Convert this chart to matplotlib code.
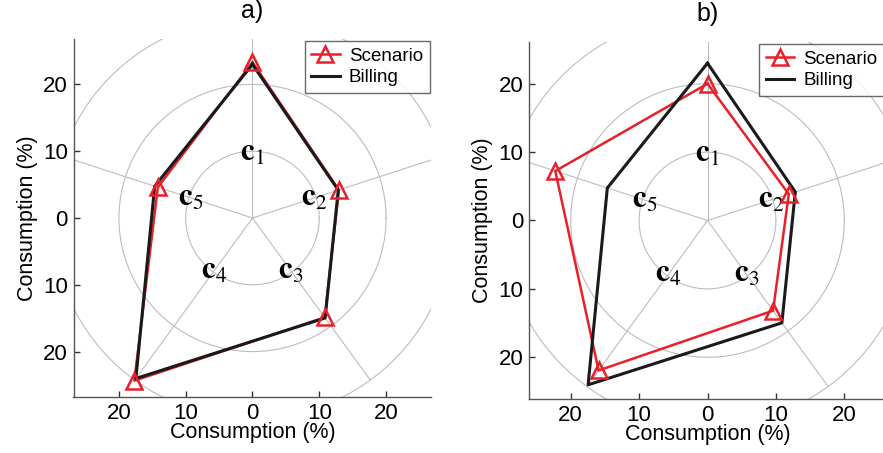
import numpy as np
import matplotlib
matplotlib.use("Agg")
import matplotlib.pyplot as plt
from matplotlib.lines import Line2D

plt.rcParams['font.family'] = ['Liberation Sans', 'DejaVu Sans']
plt.rcParams['mathtext.fontset'] = 'stix'

categories = [r'$\mathbf{c}_1$', r'$\mathbf{c}_2$', r'$\mathbf{c}_3$', r'$\mathbf{c}_4$', r'$\mathbf{c}_5$']
billing = [23.0, 13.5, 18.5, 29.7, 15.4]
scenario_a = [23.3, 13.6, 18.4, 30.1, 14.9]
scenario_b = [20.0, 12.5, 16.3, 27.1, 23.4]
ticks = [-20, -10, 0, 10, 20]
tick_labels = ['20', '10', '0', '10', '20']
rings = [10, 20, 30]
titles = ['a)', 'b)']

RED = '#e8202a'
BLACK = '#1a1a1a'
GRID = '#bdbdbd'

W, H = 883, 453
fig = plt.figure(figsize=(W / 100, H / 100), dpi=100)

angles = np.deg2rad(90 - 72 * np.arange(5))


def panel(rect, lim, scen, title):
    l, t, w, h = rect
    ax = fig.add_axes([l / W, 1 - (t + h) / H, w / W, h / H])
    ax.set_xlim(-lim, lim)
    ax.set_ylim(-lim, lim)
    ax.set_aspect('equal', adjustable='box')
    th = np.linspace(0, 2 * np.pi, 400)
    for r in rings:
        ax.plot(r * np.cos(th), r * np.sin(th), color=GRID, lw=0.8, zorder=1)
    for a in angles:
        ax.plot([0, 30 * np.cos(a)], [0, 30 * np.sin(a)], color=GRID, lw=0.8, zorder=1)
    for a, lab in zip(angles, categories):
        ax.text(10 * np.cos(a) * 0.97, 10 * np.sin(a) * 0.97, lab, fontsize=22,
                ha='center', va='center', zorder=2)
    s = np.array(scen + scen[:1])
    b = np.array(billing + billing[:1])
    aa = np.concatenate([angles, angles[:1]])
    ax.plot(s * np.cos(aa), s * np.sin(aa), color=RED, lw=1.8, zorder=3)
    ax.plot(b * np.cos(aa), b * np.sin(aa), color=BLACK, lw=2.2, zorder=4)
    ax.plot(s[:-1] * np.cos(angles), s[:-1] * np.sin(angles), ls='none', marker='^',
            ms=12, mfc='none', mec=RED, mew=1.8, zorder=5)
    ax.set_xticks(ticks)
    ax.set_xticklabels(tick_labels)
    ax.set_yticks(ticks)
    ax.set_yticklabels(tick_labels)
    ax.tick_params(direction='in', length=4, width=1, color='#333333', labelsize=16,
                   pad=4)
    for sp in ['top', 'right']:
        ax.spines[sp].set_visible(False)
    for sp in ['left', 'bottom']:
        ax.spines[sp].set_color('#555555')
        ax.spines[sp].set_linewidth(1.0)
    ax.set_xlabel('Consumption (%)', fontsize=15.5, labelpad=-1)
    ax.set_ylabel('Consumption (%)', fontsize=15.5, labelpad=4)
    ax.set_title(title, fontsize=18, pad=15)
    handles = [Line2D([], [], color=RED, lw=1.8, marker='^', ms=12, mfc='none', mec=RED, mew=1.8),
               Line2D([], [], color=BLACK, lw=2.2)]
    leg = ax.legend(handles, ['Scenario', 'Billing'], loc='upper right', fontsize=13.5,
                    frameon=True, fancybox=False, borderaxespad=0.1, handlelength=1.5,
                    handletextpad=0.5, borderpad=0.35, labelspacing=0.25)
    leg.get_frame().set_edgecolor('#444444')
    leg.get_frame().set_linewidth(1.0)
    return ax


panel((73, 39, 359, 358), 26.8, scenario_a, titles[0])
panel((529, 42, 357, 357), 26.1, scenario_b, titles[1])

fig.savefig('out.png', dpi=100)
